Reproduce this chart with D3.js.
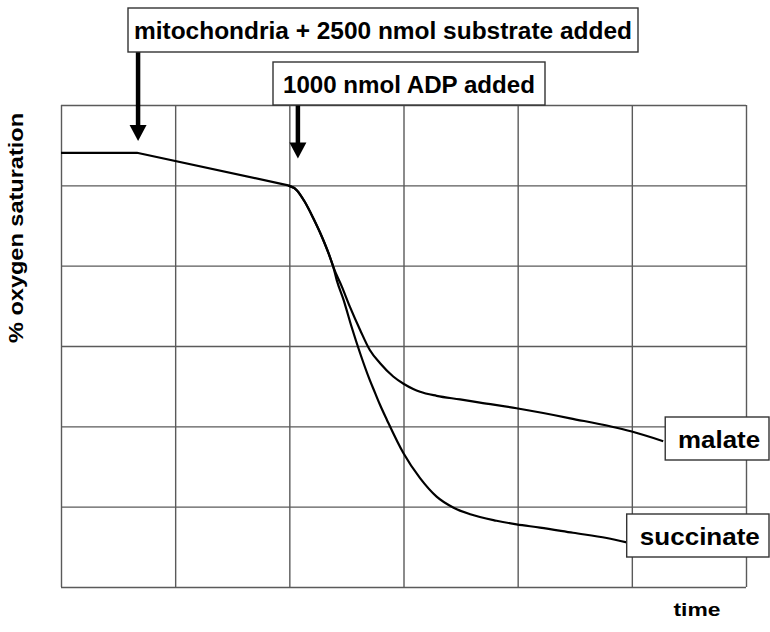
<!DOCTYPE html>
<html>
<head>
<meta charset="utf-8">
<script src="https://cdn.jsdelivr.net/npm/d3@7"></script>
<style>
  html, body { margin: 0; padding: 0; background: #fff; }
  svg { display: block; }
  text { font-family: "Liberation Sans", Arial, Helvetica, sans-serif; font-weight: bold; fill: #000; }
</style>
</head>
<body>
<svg id="chart" width="770" height="632"></svg>
<script>
// Oxygen electrode trace: time (min) vs % oxygen saturation
const xTicks = [0, 2, 4, 6, 8, 10, 12];
const yTicks = [0, 20, 40, 60, 80, 100, 120];

// baseline and slow respiration after substrate, up to ADP addition (straight segments)
const baseTime = [0, 1.33, 3.98];
const baseO2   = [108.1, 108.1, 100];

// shared part of the ADP-stimulated trace before the two substrates diverge
const commonTime = [3.98, 4.13, 4.27, 4.42, 4.57, 4.71, 4.77];
const commonO2   = [100, 98.8, 95.9, 91.8, 87.2, 82.2, 79.7];

// malate-energised mitochondria after ADP
const malateTime = [4.92, 5.06, 5.24, 5.41, 5.59, 5.82, 6.00, 6.17, 6.29, 6.58, 6.99, 7.34, 7.98, 8.92, 10.0, 10.55];
const malateO2   = [74.8, 69.8, 64.0, 59.0, 55.7, 52.4, 50.6, 49.3, 48.6, 47.6, 46.7, 45.9, 44.5, 42.0, 38.7, 36.3];

// succinate-energised mitochondria after ADP
const succinateTime = [4.83, 4.95, 5.09, 5.24, 5.41, 5.50, 5.59, 5.71, 6.00, 6.29, 6.58, 6.87, 7.17, 7.63, 7.98, 8.39, 8.97, 9.56, 9.91];
const succinateO2   = [76.4, 71.5, 64.8, 58.2, 51.5, 48.4, 45.3, 41.6, 33.3, 27.1, 22.5, 19.8, 18.1, 16.5, 15.6, 14.8, 13.5, 12.2, 11.1];

const seriesNames = ["malate", "succinate"];

// additions marked with arrows
const eventLabels = ["mitochondria + 2500 nmol substrate added", "1000 nmol ADP added"];
const eventTimes  = [1.35, 4.15];

const svg = d3.select("#chart");
const W = 770, H = 632;
const plot = { left: 61, top: 105, right: 746, bottom: 587 };

svg.append("rect").attr("width", W).attr("height", H).attr("fill", "#fff");

const x = d3.scaleLinear().domain([0, 12]).range([plot.left, plot.right]);
const y = d3.scaleLinear().domain([0, 120]).range([plot.bottom, plot.top]);

// grid
const gridColor = "#5a5a5a";
const gx = svg.append("g")
  .attr("transform", `translate(0,${plot.bottom})`)
  .call(d3.axisBottom(x).tickValues(xTicks).tickSize(-(plot.bottom - plot.top)).tickFormat(""));
const gy = svg.append("g")
  .attr("transform", `translate(${plot.left},0)`)
  .call(d3.axisLeft(y).tickValues(yTicks).tickSize(-(plot.right - plot.left)).tickFormat(""));
[gx, gy].forEach(g => {
  g.select(".domain").remove();
  g.selectAll(".tick line").attr("stroke", gridColor).attr("stroke-width", 1.4);
});

// traces
const straight = d3.line().x(d => x(d[0])).y(d => y(d[1]));
const smooth = d3.line().x(d => x(d[0])).y(d => y(d[1])).curve(d3.curveMonotoneX);

const basePts = baseTime.map((t, i) => [t, baseO2[i]]);
const commonPts = commonTime.map((t, i) => [t, commonO2[i]]);
const series = [
  { name: seriesNames[0], pts: commonPts.concat(malateTime.map((t, i) => [t, malateO2[i]])), box: { y: 417, h: 43, gap: 2 } },
  { name: seriesNames[1], pts: commonPts.concat(succinateTime.map((t, i) => [t, succinateO2[i]])), box: { y: 514, h: 43, gap: 0 } }
];

const traceStyle = sel => sel
  .attr("fill", "none")
  .attr("stroke", "#000")
  .attr("stroke-width", 2.2)
  .attr("stroke-linejoin", "round");

svg.append("path").attr("d", straight(basePts)).call(traceStyle);
svg.append("g").selectAll("path")
  .data(series)
  .join("path")
  .attr("d", d => smooth(d.pts))
  .call(traceStyle);

// series labels in boxes at the end of each trace
const labelWidths = { malate: 82, succinate: 120 };
series.forEach(s => {
  const end = s.pts[s.pts.length - 1];
  const bx = x(end[0]) + s.box.gap;
  svg.append("rect")
    .attr("x", bx).attr("y", s.box.y)
    .attr("width", W - 1 - bx).attr("height", s.box.h)
    .attr("fill", "#fff").attr("stroke", "#333").attr("stroke-width", 1.4);
  const cx = bx + (W - 1 - bx) / 2 + 2;
  svg.append("text")
    .attr("x", cx).attr("y", s.box.y + 30.5)
    .attr("text-anchor", "middle")
    .attr("font-size", 23)
    .attr("textLength", labelWidths[s.name])
    .attr("lengthAdjust", "spacingAndGlyphs")
    .text(s.name);
});

// event annotations: boxed label with a downward arrow
const events = [
  { label: eventLabels[0], t: eventTimes[0], box: [128, 8, 510, 44], textW: 498, tip: 141 },
  { label: eventLabels[1], t: eventTimes[1], box: [273, 62, 272, 43], textW: 252, tip: 158.5 }
];
events.forEach(e => {
  const ax = x(e.t);
  const [bx, by, bw, bh] = e.box;
  const headH = 16, headW = 17;
  svg.append("line")
    .attr("x1", ax).attr("x2", ax)
    .attr("y1", by + bh).attr("y2", e.tip - headH + 1)
    .attr("stroke", "#000").attr("stroke-width", 4.5);
  svg.append("path")
    .attr("d", `M${ax - headW / 2},${e.tip - headH} L${ax + headW / 2},${e.tip - headH} L${ax},${e.tip} Z`)
    .attr("fill", "#000");
  svg.append("rect")
    .attr("x", bx).attr("y", by).attr("width", bw).attr("height", bh)
    .attr("fill", "#fff").attr("stroke", "#333").attr("stroke-width", 1.4);
  svg.append("text")
    .attr("x", bx + bw / 2).attr("y", by + 31)
    .attr("text-anchor", "middle")
    .attr("font-size", 23)
    .attr("textLength", e.textW)
    .attr("lengthAdjust", "spacingAndGlyphs")
    .text(e.label);
});

// axis titles
svg.append("text")
  .attr("transform", "translate(23,228) rotate(-90)")
  .attr("text-anchor", "middle")
  .attr("font-size", 20)
  .attr("textLength", 230)
  .attr("lengthAdjust", "spacingAndGlyphs")
  .text("% oxygen saturation");

svg.append("text")
  .attr("x", 697).attr("y", 616)
  .attr("text-anchor", "middle")
  .attr("font-size", 19)
  .attr("textLength", 47)
  .attr("lengthAdjust", "spacingAndGlyphs")
  .text("time");
</script>
</body>
</html>
